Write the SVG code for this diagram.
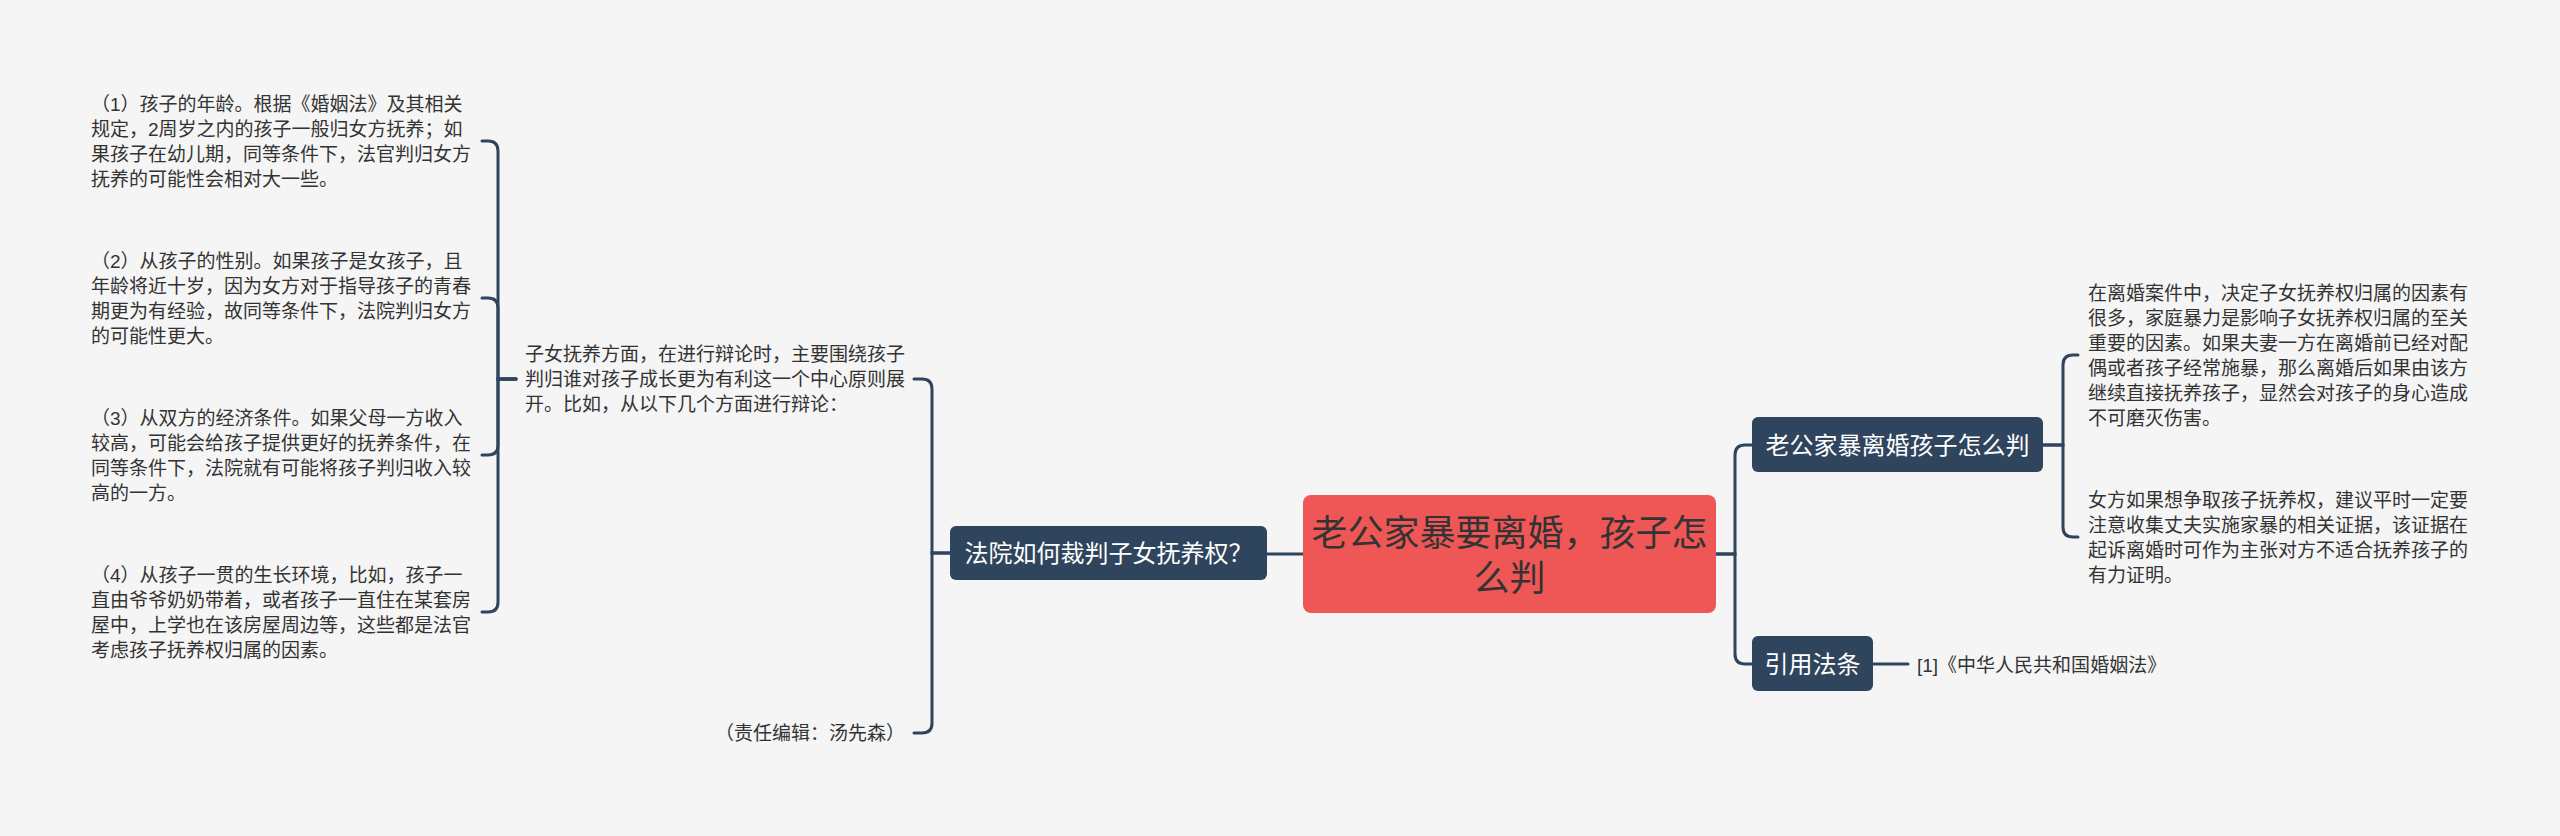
<svg xmlns="http://www.w3.org/2000/svg" width="2560" height="836" viewBox="0 0 2560 836">
<style>
.bg{fill:#F5F5F5}
.ln{fill:none;stroke:#2F455E;stroke-width:3;stroke-linecap:round}
.dark{fill:#2F455E}
.t{font-family:"Liberation Sans","Noto Sans CJK SC",sans-serif;fill:#333333;font-size:19px}
.nt{font-family:"Liberation Sans","Noto Sans CJK SC",sans-serif;fill:#FFFFFF;font-size:24px;text-anchor:middle}
.rt{font-family:"Liberation Sans","Noto Sans CJK SC",sans-serif;fill:#333333;font-size:36px;text-anchor:middle}
</style>
<rect class="bg" x="0" y="0" width="2560" height="836"/>
<g id="connectors">
  <!-- root to left node -->
  <path class="ln" d="M1303 554 H1267"/>
  <!-- left node to children -->
  <path class="ln" d="M950 553 H932 V389 Q932 379 922 379 H914"/>
  <path class="ln" d="M950 553 H932 V723 Q932 733 922 733 H914"/>
  <!-- text parent to items -->
  <path class="ln" d="M516 379 H498 V151 Q498 141 488 141 H482"/>
  <path class="ln" d="M516 379 H498 V308 Q498 298 488 298 H482"/>
  <path class="ln" d="M516 379 H498 V445 Q498 455 488 455 H482"/>
  <path class="ln" d="M516 379 H498 V602 Q498 612 488 612 H482"/>
  <!-- root to right nodes -->
  <path class="ln" d="M1716 554 H1735 V455 Q1735 445 1745 445 H1752"/>
  <path class="ln" d="M1716 554 H1735 V654 Q1735 664 1745 664 H1752"/>
  <!-- right node 1 to texts -->
  <path class="ln" d="M2043 445 H2063 V365 Q2063 355 2073 355 H2078"/>
  <path class="ln" d="M2043 445 H2063 V527 Q2063 537 2073 537 H2078"/>
  <!-- 引用法条 to citation -->
  <path class="ln" d="M1873 664 H1908"/>
</g>
<g id="root">
  <rect x="1303" y="495" width="413" height="118" rx="8" fill="#EF5656"/>
  <text class="rt" x="1509.5" y="545.5">老公家暴要离婚，孩子怎</text>
  <text class="rt" x="1509.5" y="590.5">么判</text>
</g>
<g id="node-court">
  <rect class="dark" x="950" y="526" width="317" height="54" rx="6"/>
  <text class="nt" x="1108.5" y="562">法院如何裁判子女抚养权？</text>
</g>
<g id="node-intro">
  <text class="t" x="525" y="361">子女抚养方面，在进行辩论时，主要围绕孩子</text>
  <text class="t" x="525" y="386">判归谁对孩子成长更为有利这一个中心原则展</text>
  <text class="t" x="525" y="411">开。比如，从以下几个方面进行辩论：</text>
</g>
<g id="node-editor">
  <text class="t" x="715" y="740">（责任编辑：汤先森）</text>
</g>
<g id="node-item1">
  <text class="t" x="91" y="110.5">（1）孩子的年龄。根据《婚姻法》及其相关</text>
  <text class="t" x="91" y="135.5">规定，2周岁之内的孩子一般归女方抚养；如</text>
  <text class="t" x="91" y="160.5">果孩子在幼儿期，同等条件下，法官判归女方</text>
  <text class="t" x="91" y="185.5">抚养的可能性会相对大一些。</text>
</g>
<g id="node-item2">
  <text class="t" x="91" y="267.5">（2）从孩子的性别。如果孩子是女孩子，且</text>
  <text class="t" x="91" y="292.5">年龄将近十岁，因为女方对于指导孩子的青春</text>
  <text class="t" x="91" y="317.5">期更为有经验，故同等条件下，法院判归女方</text>
  <text class="t" x="91" y="342.5">的可能性更大。</text>
</g>
<g id="node-item3">
  <text class="t" x="91" y="424.5">（3）从双方的经济条件。如果父母一方收入</text>
  <text class="t" x="91" y="449.5">较高，可能会给孩子提供更好的抚养条件，在</text>
  <text class="t" x="91" y="474.5">同等条件下，法院就有可能将孩子判归收入较</text>
  <text class="t" x="91" y="499.5">高的一方。</text>
</g>
<g id="node-item4">
  <text class="t" x="91" y="581.5">（4）从孩子一贯的生长环境，比如，孩子一</text>
  <text class="t" x="91" y="606.5">直由爷爷奶奶带着，或者孩子一直住在某套房</text>
  <text class="t" x="91" y="631.5">屋中，上学也在该房屋周边等，这些都是法官</text>
  <text class="t" x="91" y="656.5">考虑孩子抚养权归属的因素。</text>
</g>
<g id="node-domestic">
  <rect class="dark" x="1752" y="417" width="291" height="55" rx="6"/>
  <text class="nt" x="1897.5" y="453.5">老公家暴离婚孩子怎么判</text>
</g>
<g id="node-domestic-text1">
  <text class="t" x="2088" y="299.5">在离婚案件中，决定子女抚养权归属的因素有</text>
  <text class="t" x="2088" y="324.5">很多，家庭暴力是影响子女抚养权归属的至关</text>
  <text class="t" x="2088" y="349.5">重要的因素。如果夫妻一方在离婚前已经对配</text>
  <text class="t" x="2088" y="374.5">偶或者孩子经常施暴，那么离婚后如果由该方</text>
  <text class="t" x="2088" y="399.5">继续直接抚养孩子，显然会对孩子的身心造成</text>
  <text class="t" x="2088" y="424.5">不可磨灭伤害。</text>
</g>
<g id="node-domestic-text2">
  <text class="t" x="2088" y="506.5">女方如果想争取孩子抚养权，建议平时一定要</text>
  <text class="t" x="2088" y="531.5">注意收集丈夫实施家暴的相关证据，该证据在</text>
  <text class="t" x="2088" y="556.5">起诉离婚时可作为主张对方不适合抚养孩子的</text>
  <text class="t" x="2088" y="581.5">有力证明。</text>
</g>
<g id="node-law">
  <rect class="dark" x="1752" y="636" width="121" height="55" rx="6"/>
  <text class="nt" x="1812.5" y="672.5">引用法条</text>
</g>
<g id="node-citation">
  <text class="t" x="1917" y="671.5">[1]《中华人民共和国婚姻法》</text>
</g>
</svg>
